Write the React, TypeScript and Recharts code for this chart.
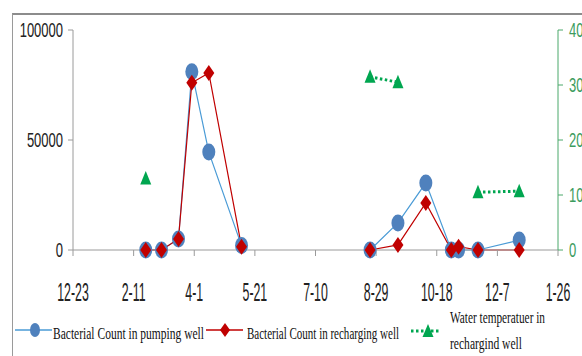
import { LineChart, Line, XAxis, YAxis } from 'recharts';

// days counted from 12-23; ticks every 50 days
const dayTicks = [0, 50, 100, 150, 200, 250, 300, 350, 400];
const tickLabels = ['12-23', '2-11', '4-1', '5-21', '7-10', '8-29', '10-18', '12-7', '1-26'];

// sampling days (null row at 190 breaks the lines across the summer gap)
const days = [60, 73, 87, 98, 112, 139, 190, 245, 268, 291, 312, 318, 334, 368];
const pumping = [0, 0, 5000, 81000, 44500, 2000, null, 0, 12300, 30500, 0, 0, 0, 4500];
const recharging = [0, 0, 5000, 76000, 80500, 1500, null, 0, 2300, 21400, 0, 1500, 0, 0];
const waterTemp = [13, null, null, null, null, null, null, 31.5, 30.5, null, null, null, 10.5, 10.7];

const leftTicks = [0, 50000, 100000];
const rightTicks = [0, 10, 20, 30, 40];

const BLUE = '#4f81bd';
const BLUE_LINE = '#4a9bd6';
const RED = '#c00000';
const GREEN = '#00a650';
const GREEN_TXT = '#3c9c5e';

const data = days.map((d, i) => ({
  day: d,
  pump: pumping[i],
  recharge: recharging[i],
  temp: waterTemp[i],
}));

const tickFont = '"Liberation Sans", Arial, sans-serif';
const Y_STRETCH = 1.6;
const X_STRETCH = 1.95;

function XTick(props: any) {
  const { x, y, payload } = props;
  const i = dayTicks.indexOf(payload.value);
  return (
    <g transform={`translate(${x},${y}) scale(0.95,${X_STRETCH})`}>
      <text x={0} y={0} dy="0.75em" textAnchor="middle" fontSize={13} fontFamily={tickFont} fill="#222">
        {tickLabels[i] ?? ''}
      </text>
    </g>
  );
}

function LeftTick(props: any) {
  const { x, y, payload } = props;
  return (
    <g transform={`translate(${x},${y}) scale(1,${Y_STRETCH})`}>
      <text x={0} y={0} dy="0.35em" textAnchor="end" fontSize={13} fontFamily={tickFont} fill="#222">
        {payload.value}
      </text>
    </g>
  );
}

function RightTick(props: any) {
  const { x, y, payload } = props;
  return (
    <g transform={`translate(${x},${y}) scale(1,${Y_STRETCH})`}>
      <text x={0} y={0} dy="0.35em" textAnchor="start" fontSize={13} fontFamily={tickFont} fill={GREEN_TXT}>
        {payload.value}
      </text>
    </g>
  );
}

function CircleDot(props: any) {
  const { cx, cy, value } = props;
  if (value == null || cx == null || cy == null) return <g />;
  return <ellipse cx={cx} cy={cy} rx={6.5} ry={8.5} fill={BLUE} />;
}

function DiamondDot(props: any) {
  const { cx, cy, value } = props;
  if (value == null || cx == null || cy == null) return <g />;
  const w = 5.5, h = 8;
  return <polygon points={`${cx},${cy - h} ${cx + w},${cy} ${cx},${cy + h} ${cx - w},${cy}`} fill={RED} />;
}

function TriDot(props: any) {
  const { cx, cy, value } = props;
  if (value == null || cx == null || cy == null) return <g />;
  return <polygon points={`${cx},${cy - 7.5} ${cx + 5.5},${cy + 6} ${cx - 5.5},${cy + 6}`} fill={GREEN} />;
}

const serif = '"Liberation Serif", "Times New Roman", serif';

function LegendText({ x, y, w, children }: { x: number; y: number; w: number; children: string }) {
  return (
    <g transform={`translate(${x},${y}) scale(1,1.3)`}>
      <text x={0} y={0} fontSize={12.5} fontFamily={serif} fill="#111" textLength={w} lengthAdjust="spacingAndGlyphs">
        {children}
      </text>
    </g>
  );
}

function LegendBox() {
  return (
    <svg width={582} height={56} style={{ position: 'absolute', left: 0, top: 300 }}>
      <line x1={15} y1={30} x2={52} y2={30} stroke={BLUE_LINE} strokeWidth={1.3} />
      <ellipse cx={35} cy={30} rx={5} ry={7} fill={BLUE} />
      <LegendText x={53} y={39} w={151}>Bacterial Count in pumping well</LegendText>
      <line x1={206} y1={30} x2={243} y2={30} stroke={RED} strokeWidth={1.3} />
      <polygon points="225,23 230,30 225,37 220,30" fill={RED} />
      <LegendText x={247} y={39} w={152}>Bacterial Count in recharging well</LegendText>
      <line x1={411} y1={31} x2={441} y2={31} stroke={GREEN} strokeWidth={3} strokeDasharray="2.5 2.5" />
      <polygon points="428,24 433.5,37 422.5,37" fill={GREEN} />
      <LegendText x={450} y={23} w={95}>Water temperatuer in</LegendText>
      <LegendText x={450} y={49} w={72}>rechargind well</LegendText>
    </svg>
  );
}

export default function App() {
  return (
    <div style={{ position: 'absolute', left: 0, top: 0, width: 582, height: 356, overflow: 'hidden', background: '#fff' }}>
      <div
        style={{
          position: 'absolute',
          left: 12,
          top: 13,
          width: 640,
          height: 400,
          borderTop: '2px solid #8c8c8c',
          borderLeft: '1.5px solid #9a9a9a',
        }}
      />
      <div style={{ position: 'absolute', left: 0, top: 0 }}>
        <LineChart width={582} height={356} data={data} margin={{ top: 30, right: 0, bottom: 76, left: 0 }}>
          <XAxis
            dataKey="day"
            type="number"
            domain={[0, 400]}
            ticks={dayTicks}
            tick={<XTick />}
            tickSize={6}
            tickMargin={26}
            height={30}
            stroke="#9a9a9a"
            interval={0}
          />
          <YAxis
            yAxisId="left"
            domain={[0, 100000]}
            ticks={leftTicks}
            tick={<LeftTick />}
            tickSize={5}
            tickMargin={5}
            width={73}
            stroke="#9a9a9a"
            interval={0}
          />
          <YAxis
            yAxisId="right"
            orientation="right"
            domain={[0, 40]}
            ticks={rightTicks}
            tick={<RightTick />}
            tickSize={5}
            tickMargin={6}
            width={24}
            stroke="#4aa86a"
            interval={0}
          />
          <Line
            yAxisId="left"
            dataKey="pump"
            stroke={BLUE_LINE}
            strokeWidth={1.2}
            dot={<CircleDot />}
            activeDot={false}
            isAnimationActive={false}
          />
          <Line
            yAxisId="left"
            dataKey="recharge"
            stroke={RED}
            strokeWidth={1.2}
            dot={<DiamondDot />}
            activeDot={false}
            isAnimationActive={false}
          />
          <Line
            yAxisId="right"
            dataKey="temp"
            stroke={GREEN}
            strokeWidth={3}
            strokeDasharray="2.5 2.5"
            dot={<TriDot />}
            activeDot={false}
            isAnimationActive={false}
          />
        </LineChart>
      </div>
      <LegendBox />
    </div>
  );
}
